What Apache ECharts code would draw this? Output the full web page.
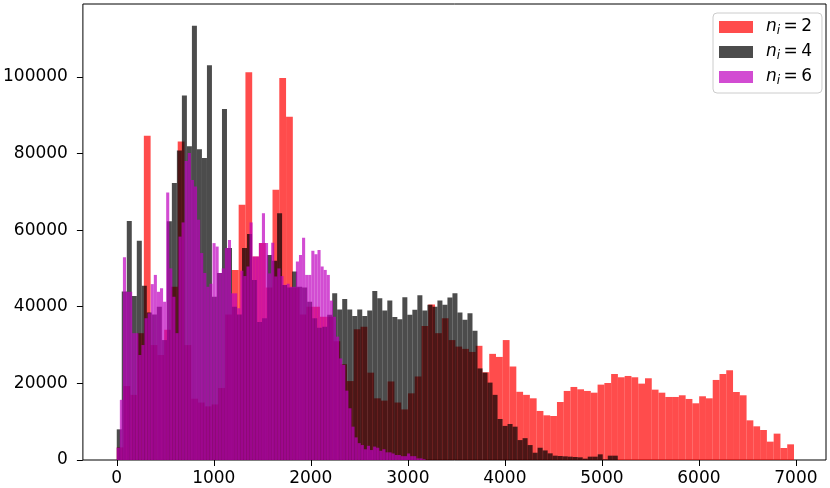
<!DOCTYPE html>
<html lang="en">
<head>
    <meta charset="UTF-8">
    <title>histogram n_i</title>
    <script src="https://cdn.jsdelivr.net/npm/echarts@6/dist/echarts.min.js"></script>
    <style>
        html, body { margin: 0; padding: 0; background: #fff; }
        #main { width: 830px; height: 488px; }
    </style>
</head>
<body>
<div id="main"></div>
<script type="text/javascript">
    // bin layout of each histogram (start value and bin width)
    var redStart = 0, redWidth = 69.8;
    var blackStart = 0, blackWidth = 51.64;
    var purpleStart = 0, purpleWidth = 31.83;

    // counts per bin, n_i = 2
    var redCounts = [
        3300, 19300, 17000, 33100, 84600, 30000, 27400, 34000, 45200, 83100,
        30000, 16000, 15000, 14000, 14500, 18800, 38000, 49600, 66600, 101200,
        53100, 56600, 45000, 70500, 99700, 89600, 45000, 38000, 40000, 40000,
        37400, 37400, 31000, 25000, 20600, 34100, 34800, 22800, 16100, 15500,
        20500, 15000, 13200, 17400, 21800, 35000, 40600, 33100, 37000, 31300,
        29600, 29000, 28200, 29800, 22900, 27700, 26900, 31300, 24400, 17800,
        17000, 16100, 12800, 11660, 11490, 15140, 18020, 19060, 18450, 18020,
        17570, 19670, 20100, 22450, 21590, 21930, 21590, 19930, 21330, 18360,
        17570, 16450, 16450, 16890, 15930, 14800, 16630, 16100, 20890, 22450,
        23420, 17750, 16890, 10350, 8790, 7830, 4790, 6880, 3130, 4090
    ];
    // counts per bin, n_i = 4
    var blackCounts = [
        8000, 44000, 62400, 42800, 57200, 45500, 38500, 38000, 40000, 31300,
        62300, 72300, 80800, 95100, 81900, 113300, 81100, 78800, 103000, 42600,
        48800, 91600, 55300, 40000, 38000, 55300, 59000, 47000, 36000, 37000,
        53500, 52000, 64400, 45700, 45000, 49200, 45200, 45000, 41300, 37000,
        34500, 34800, 37900, 43500, 39300, 42000, 39300, 37600, 39300, 37600,
        39000, 44100, 42200, 39000, 41600, 37300, 36700, 42500, 37900, 39200,
        43000, 39000, 40500, 40000, 41600, 40500, 42400, 43500, 38500, 36600,
        38300, 33700, 23900, 22800, 20200, 17000, 10700, 8900, 9400, 8700,
        5200, 5700, 3900, 1900, 3200, 2500, 1740, 1130, 1040, 960,
        870, 780, 700, 350, 870, 870, 1480, 170, 1130, 1130
    ];
    // counts per bin, n_i = 6
    var purpleCounts = [
        3200, 15700, 52900, 43900, 43900, 33100, 33100, 27400, 30000, 37000,
        38300, 45900, 48300, 43900, 44800, 41300, 69800, 50000, 42600, 33100,
        58300, 62000, 78000, 80100, 73100, 71400, 62700, 54000, 48800, 45200,
        46000, 56600, 55700, 48800, 50000, 55300, 57400, 43500, 43500, 39600,
        49400, 48000, 50500, 62000, 53100, 53100, 56600, 64400, 56600, 48700,
        56700, 47900, 50000, 48000, 45700, 46000, 45200, 45200, 51800, 53500,
        58000, 48300, 48300, 54600, 53700, 54800, 50500, 49600, 48300, 41600,
        37400, 32200, 26500, 24800, 18100, 13500, 8700, 5900, 4400, 3900,
        2800, 3700, 2600, 3500, 3200, 2400, 2800, 2000, 2000, 1700,
        1300, 1300, 1000, 1000, 1700, 1000, 1000, 430, 430, 200
    ];

    var seriesNames = ['n_i = 2', 'n_i = 4', 'n_i = 6'];
    var xTicks = [0, 1000, 2000, 3000, 4000, 5000, 6000, 7000];
    var yTicks = [0, 20000, 40000, 60000, 80000, 100000];

    function toBins(start, width, counts) {
        return counts.map(function (c, i) {
            return [start + i * width, start + (i + 1) * width, c];
        });
    }

    function renderBar(params, api) {
        var top = api.coord([api.value(0), api.value(2)]);
        var bottom = api.coord([api.value(1), 0]);
        return {
            type: 'rect',
            shape: {x: top[0], y: top[1], width: bottom[0] - top[0], height: bottom[1] - top[1]},
            style: api.style()
        };
    }

    function histSeries(name, color, bins) {
        return {
            name: name,
            type: 'custom',
            renderItem: renderBar,
            itemStyle: {color: color},
            encode: {x: [0, 1], y: 2},
            data: bins
        };
    }

    var myChart = echarts.init(document.getElementById('main'), null, {renderer: 'canvas'});

    var font = 'DejaVu Sans';
    var plain = function (v) { return String(v); };
    var option = {
        backgroundColor: '#ffffff',
        animation: false,
        grid: {
            left: 80, top: 4, width: 746, height: 456,
            show: true, borderColor: '#000', borderWidth: 1, backgroundColor: 'transparent'
        },
        xAxis: {
            type: 'value',
            min: -349, max: 7310,
            axisLine: {show: false, onZero: false},
            splitLine: {show: false},
            axisTick: {show: true, length: 6, lineStyle: {color: '#000'}, customValues: xTicks},
            axisLabel: {
                customValues: xTicks, margin: 10, formatter: plain,
                fontFamily: font, fontSize: 17, color: '#000'
            }
        },
        yAxis: {
            type: 'value',
            min: 0, max: 119000,
            axisLine: {show: false, onZero: false},
            splitLine: {show: false},
            axisTick: {show: true, length: 6, lineStyle: {color: '#000'}, customValues: yTicks},
            axisLabel: {
                customValues: yTicks, margin: 15, formatter: plain,
                fontFamily: font, fontSize: 17, color: '#000'
            }
        },
        legend: {
            orient: 'vertical',
            left: 713, top: 13,
            itemWidth: 34, itemHeight: 12, itemGap: 5,
            padding: [4, 10, 6, 6],
            backgroundColor: 'rgba(255,255,255,0.8)',
            borderColor: '#cccccc', borderWidth: 1, borderRadius: 4,
            formatter: function (name) {
                var num = name.split('= ')[1];
                return '{it|n}{sub|i}{t|\u2009=\u2009' + num + '}';
            },
            textStyle: {
                fontFamily: font, fontSize: 17, color: '#000', lineHeight: 20,
                rich: {
                    it: {fontFamily: font, fontSize: 17, fontStyle: 'italic', padding: [0, 0, 0, 8]},
                    sub: {fontFamily: font, fontSize: 12, fontStyle: 'italic', padding: [8, 0, 0, 0]},
                    t: {fontFamily: font, fontSize: 17}
                }
            },
            data: [
                {name: seriesNames[0], icon: 'rect', itemStyle: {color: 'rgba(255,0,0,0.7)'}},
                {name: seriesNames[1], icon: 'rect', itemStyle: {color: 'rgba(0,0,0,0.7)'}},
                {name: seriesNames[2], icon: 'rect', itemStyle: {color: 'rgba(191,0,191,0.7)'}}
            ]
        },
        series: [
            histSeries(seriesNames[0], 'rgba(255,0,0,0.7)', toBins(redStart, redWidth, redCounts)),
            histSeries(seriesNames[1], 'rgba(0,0,0,0.7)', toBins(blackStart, blackWidth, blackCounts)),
            histSeries(seriesNames[2], 'rgba(191,0,191,0.7)', toBins(purpleStart, purpleWidth, purpleCounts))
        ]
    };
    myChart.setOption(option);
</script>
</body>
</html>
